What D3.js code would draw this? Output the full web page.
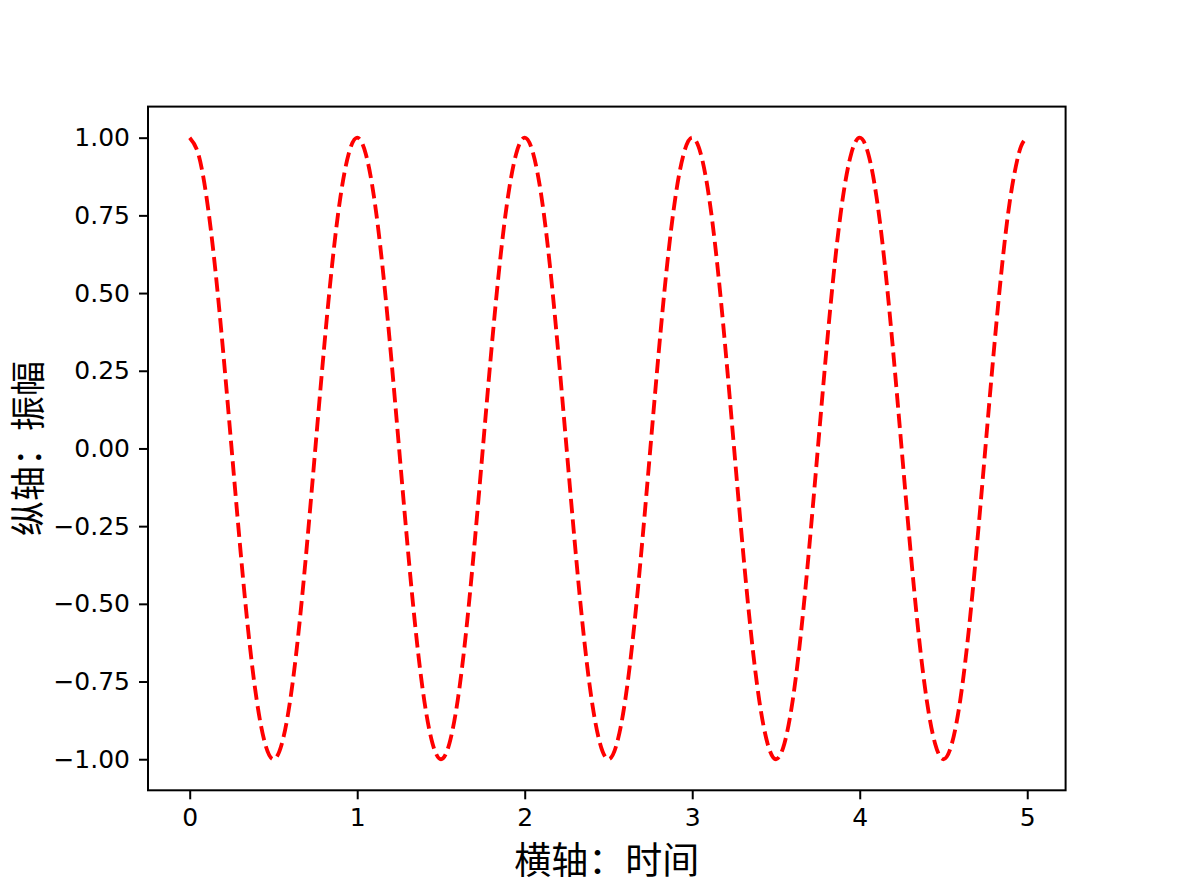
<!DOCTYPE html>
<html>
<head>
<meta charset="utf-8">
<script src="https://cdn.jsdelivr.net/npm/d3@7"></script>
<style>
  body { margin: 0; background: #fff; }
</style>
</head>
<body>
<div id="wrapper"></div>
<script>
width = 1184
height = 888
margin = {left: 148, right: 118.4, top: 106.6, bottom: 97.7}

// 时间采样点（每 0.05 取一个，最后一个为 4.98）
const timeValues = [
  0.00, 0.05, 0.10, 0.15, 0.20, 0.25, 0.30, 0.35, 0.40, 0.45,
  0.50, 0.55, 0.60, 0.65, 0.70, 0.75, 0.80, 0.85, 0.90, 0.95,
  1.00, 1.05, 1.10, 1.15, 1.20, 1.25, 1.30, 1.35, 1.40, 1.45,
  1.50, 1.55, 1.60, 1.65, 1.70, 1.75, 1.80, 1.85, 1.90, 1.95,
  2.00, 2.05, 2.10, 2.15, 2.20, 2.25, 2.30, 2.35, 2.40, 2.45,
  2.50, 2.55, 2.60, 2.65, 2.70, 2.75, 2.80, 2.85, 2.90, 2.95,
  3.00, 3.05, 3.10, 3.15, 3.20, 3.25, 3.30, 3.35, 3.40, 3.45,
  3.50, 3.55, 3.60, 3.65, 3.70, 3.75, 3.80, 3.85, 3.90, 3.95,
  4.00, 4.05, 4.10, 4.15, 4.20, 4.25, 4.30, 4.35, 4.40, 4.45,
  4.50, 4.55, 4.60, 4.65, 4.70, 4.75, 4.80, 4.85, 4.90, 4.95,
  4.98
]

// 振幅
const amplitudeValues = [
  1.00, 0.95, 0.81, 0.59, 0.31, 0.00, -0.31, -0.59, -0.81, -0.95,
  -1.00, -0.95, -0.81, -0.59, -0.31, 0.00, 0.31, 0.59, 0.81, 0.95,
  1.00, 0.95, 0.81, 0.59, 0.31, 0.00, -0.31, -0.59, -0.81, -0.95,
  -1.00, -0.95, -0.81, -0.59, -0.31, 0.00, 0.31, 0.59, 0.81, 0.95,
  1.00, 0.95, 0.81, 0.59, 0.31, 0.00, -0.31, -0.59, -0.81, -0.95,
  -1.00, -0.95, -0.81, -0.59, -0.31, 0.00, 0.31, 0.59, 0.81, 0.95,
  1.00, 0.95, 0.81, 0.59, 0.31, 0.00, -0.31, -0.59, -0.81, -0.95,
  -1.00, -0.95, -0.81, -0.59, -0.31, 0.00, 0.31, 0.59, 0.81, 0.95,
  1.00, 0.95, 0.81, 0.59, 0.31, 0.00, -0.31, -0.59, -0.81, -0.95,
  -1.00, -0.95, -0.81, -0.59, -0.31, 0.00, 0.31, 0.59, 0.81, 0.95,
  0.99
]

const xTicks = [0, 1, 2, 3, 4, 5]
const yTicks = [-1.00, -0.75, -0.50, -0.25, 0.00, 0.25, 0.50, 0.75, 1.00]

const xLabel = "横轴：时间"
const yLabel = "纵轴：振幅"

const data = timeValues.map((t, i) => ({t: t, v: amplitudeValues[i]}))

const svg = d3.select("#wrapper").append("svg")
    .attr("width", width)
    .attr("height", height)
    .style("font-family", "'DejaVu Sans', sans-serif")

// matplotlib 默认留白 5%
const xExt = d3.extent(timeValues)
const xPad = (xExt[1] - xExt[0]) * 0.05
const yExt = d3.extent(amplitudeValues)
const yPad = (yExt[1] - yExt[0]) * 0.05

x = d3.scaleLinear()
    .domain([xExt[0] - xPad, xExt[1] + xPad])
    .range([margin.left, width - margin.right])

y = d3.scaleLinear()
    .domain([yExt[0] - yPad, yExt[1] + yPad])
    .range([height - margin.bottom, margin.top])

const line = d3.line()
    .x(d => x(d.t))
    .y(d => y(d.v))
    .curve(d3.curveNatural)

svg.append("path")
    .datum(data)
    .attr("fill", "none")
    .attr("stroke", "#ff0000")
    .attr("stroke-width", 3.85)
    .attr("stroke-dasharray", "14.3,6.2")
    .attr("d", line)

const xAxis = g => g
    .attr("transform", `translate(0,${height - margin.bottom})`)
    .call(d3.axisBottom(x).tickValues(xTicks).tickFormat(d3.format("d"))
        .tickSize(9).tickPadding(9))
    .call(g => g.select(".domain").remove())
    .call(g => g.selectAll(".tick line").attr("stroke-width", 2))
    .call(g => g.selectAll(".tick text")
        .attr("font-size", 25)
        .attr("font-family", "'DejaVu Sans', sans-serif")
        .attr("fill", "#000"))

const yAxis = g => g
    .attr("transform", `translate(${margin.left},0)`)
    .call(d3.axisLeft(y).tickValues(yTicks)
        .tickFormat(d => d3.format(".2f")(d).replace("-", "\u2212"))
        .tickSize(9).tickPadding(9))
    .call(g => g.select(".domain").remove())
    .call(g => g.selectAll(".tick line").attr("stroke-width", 2))
    .call(g => g.selectAll(".tick text")
        .attr("font-size", 25)
        .attr("font-family", "'DejaVu Sans', sans-serif")
        .attr("fill", "#000"))

svg.append("g").call(xAxis)
svg.append("g").call(yAxis)

// 边框
svg.append("rect")
    .attr("x", margin.left)
    .attr("y", margin.top)
    .attr("width", width - margin.left - margin.right)
    .attr("height", height - margin.top - margin.bottom)
    .attr("fill", "none")
    .attr("stroke", "#000")
    .attr("stroke-width", 2)

svg.append("text")
    .attr("x", (margin.left + width - margin.right) / 2)
    .attr("y", 874)
    .attr("text-anchor", "middle")
    .style("font-family", "'Noto Sans CJK SC'")
    .style("font-size", "37px")
    .text(xLabel)

svg.append("text")
    .attr("transform", `translate(41,${(margin.top + height - margin.bottom) / 2}) rotate(-90)`)
    .attr("text-anchor", "middle")
    .style("font-family", "'Noto Sans CJK SC'")
    .style("font-size", "35px")
    .text(yLabel)
</script>
</body>
</html>
